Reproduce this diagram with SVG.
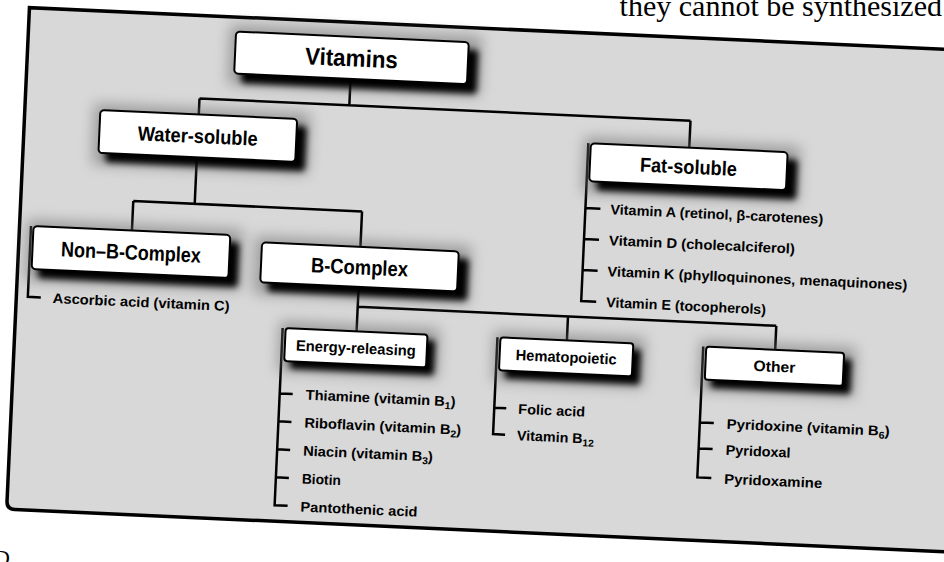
<svg xmlns="http://www.w3.org/2000/svg" width="944" height="562" viewBox="0 0 944 562">
<defs>
<filter id="b3" x="-20%" y="-40%" width="140%" height="180%"><feGaussianBlur stdDeviation="3"/></filter>
<filter id="b8" x="-30%" y="-80%" width="160%" height="260%"><feGaussianBlur stdDeviation="7"/></filter>
</defs>
<style>
.frame{fill:#d8d8d8;stroke:#000;stroke-width:3.5}
.box{fill:#fff;stroke:#000;stroke-width:2}
.sh{fill:#000;filter:url(#b3)}
.halo{fill:#6a6a6a;opacity:.55;filter:url(#b8)}
.lbl{font-family:"Liberation Sans",Arial,sans-serif;font-weight:bold;fill:#000;text-anchor:middle}
.it{font-family:"Liberation Sans",Arial,sans-serif;font-weight:bold;font-size:14px;fill:#000}
.cn{fill:none;stroke:#000;stroke-width:2.5}
.pg{font-family:"Liberation Serif","Times New Roman",serif;fill:#000}
</style>
<rect width="944" height="562" fill="#fff"/>
<text class="pg" x="942" y="16" font-size="30" text-anchor="end">they cannot be synthesized</text>
<text class="pg" x="-6" y="565" font-size="22">D.</text>
<g transform="rotate(2.6 472 281)">
<path class="frame" d="M990,28 H17.5 V522 Q17.5,530 25.5,530 H990"/>
<g id="connectors">
<path class="cn" d="M341.5,84.5 V111 M191.5,111 H683 M191.5,111 V127 M683,111 V138"/>
<path class="cn" d="M191.5,170 V216.5 M130,216.5 H359 M130,216.5 V246 M359,216.5 V252"/>
<path class="cn" d="M359,292 V336.5 M359,312 H778 M569.5,312 V336 M778,312 V336"/>
<path class="cn" d="M29,246 V317 H42"/>
<path class="cn" d="M582,138 V296 H597 M582,203 H597 M582,234 H597 M582,265 H597"/>
<path class="cn" d="M285,336.5 V514 H298 M285,402 H298 M285,430 H298 M285,458 H298 M285,486 H298"/>
<path class="cn" d="M500,336 V433 H512 M500,406.5 H512"/>
<path class="cn" d="M706,336 V467 H720 M706,412 H720 M706,438 H720"/>
</g>
<g id="n-vitamins">
<rect class="halo" x="219" y="36" width="252" height="60"/>
<rect class="sh" x="232" y="50" width="236" height="44" rx="4"/>
<rect class="box" x="225" y="42.5" width="233" height="42" rx="4"/>
<text class="lbl" x="341.5" y="72" font-size="24" textLength="93" lengthAdjust="spacingAndGlyphs">Vitamins</text>
</g>
<g id="n-water">
<rect class="halo" x="87" y="121" width="216" height="61"/>
<rect class="sh" x="100" y="134" width="200" height="45" rx="4"/>
<rect class="box" x="93" y="127" width="197" height="43" rx="4"/>
<text class="lbl" x="191.5" y="155.5" font-size="20" textLength="120" lengthAdjust="spacingAndGlyphs">Water-soluble</text>
</g>
<g id="n-fat">
<rect class="halo" x="578" y="132" width="216" height="56"/>
<rect class="sh" x="592" y="145" width="200" height="40" rx="4"/>
<rect class="box" x="584.5" y="138" width="197" height="38" rx="4"/>
<text class="lbl" x="683" y="164" font-size="20" textLength="97" lengthAdjust="spacingAndGlyphs">Fat-soluble</text>
</g>
<g id="n-nonb">
<rect class="halo" x="25" y="240" width="216" height="61"/>
<rect class="sh" x="38" y="253" width="200" height="45" rx="4"/>
<rect class="box" x="31.5" y="246" width="197" height="43" rx="4"/>
<text class="lbl" x="130" y="275" font-size="21" textLength="140" lengthAdjust="spacingAndGlyphs">Non–B-Complex</text>
<text class="it" x="54" y="322" textLength="177" lengthAdjust="spacingAndGlyphs">Ascorbic acid (vitamin C)</text>
</g>
<g id="n-bcomplex">
<rect class="halo" x="254" y="246" width="216" height="58"/>
<rect class="sh" x="268" y="259" width="200" height="42" rx="4"/>
<rect class="box" x="260.5" y="252" width="197" height="40" rx="4"/>
<text class="lbl" x="359" y="279.5" font-size="21" textLength="97" lengthAdjust="spacingAndGlyphs">B-Complex</text>
</g>
<g id="n-fat-items">
<text class="it" x="607" y="208" textLength="213" lengthAdjust="spacingAndGlyphs">Vitamin A (retinol, β-carotenes)</text>
<text class="it" x="607" y="239" textLength="186" lengthAdjust="spacingAndGlyphs">Vitamin D (cholecalciferol)</text>
<text class="it" x="607" y="270" textLength="300" lengthAdjust="spacingAndGlyphs">Vitamin K (phylloquinones, menaquinones)</text>
<text class="it" x="607" y="301" textLength="160" lengthAdjust="spacingAndGlyphs">Vitamin E (tocopherols)</text>
</g>
<g id="n-energy">
<rect class="halo" x="282" y="330" width="160" height="50"/>
<rect class="sh" x="294" y="342" width="144" height="35" rx="3"/>
<rect class="box" x="288" y="336.5" width="142" height="33" rx="3"/>
<text class="lbl" x="359" y="358.5" font-size="15" textLength="120" lengthAdjust="spacingAndGlyphs">Energy-releasing</text>
<text class="it" x="311" y="407" textLength="150" lengthAdjust="spacingAndGlyphs">Thiamine (vitamin B<tspan font-size="10" dy="3">1</tspan><tspan dy="-3">)</tspan></text>
<text class="it" x="311" y="435" textLength="157" lengthAdjust="spacingAndGlyphs">Riboflavin (vitamin B<tspan font-size="10" dy="3">2</tspan><tspan dy="-3">)</tspan></text>
<text class="it" x="311" y="463" textLength="130" lengthAdjust="spacingAndGlyphs">Niacin (vitamin B<tspan font-size="10" dy="3">3</tspan><tspan dy="-3">)</tspan></text>
<text class="it" x="311" y="491" textLength="39" lengthAdjust="spacingAndGlyphs">Biotin</text>
<text class="it" x="311" y="519" textLength="117" lengthAdjust="spacingAndGlyphs">Pantothenic acid</text>
</g>
<g id="n-hemato">
<rect class="halo" x="497" y="330" width="151" height="50"/>
<rect class="sh" x="509" y="342" width="135" height="35" rx="3"/>
<rect class="box" x="503" y="336" width="133" height="33" rx="3"/>
<text class="lbl" x="569.5" y="358" font-size="15" textLength="101" lengthAdjust="spacingAndGlyphs">Hematopoietic</text>
<text class="it" x="524" y="411.5" textLength="67" lengthAdjust="spacingAndGlyphs">Folic acid</text>
<text class="it" x="524" y="438" textLength="77" lengthAdjust="spacingAndGlyphs">Vitamin B<tspan font-size="10" dy="3">12</tspan></text>
</g>
<g id="n-other">
<rect class="halo" x="703" y="330" width="156" height="50"/>
<rect class="sh" x="715" y="342" width="140" height="35" rx="3"/>
<rect class="box" x="709" y="336" width="138" height="33" rx="3"/>
<text class="lbl" x="778" y="358" font-size="15" textLength="42" lengthAdjust="spacingAndGlyphs">Other</text>
<text class="it" x="733" y="417" textLength="163" lengthAdjust="spacingAndGlyphs">Pyridoxine (vitamin B<tspan font-size="10" dy="3">6</tspan><tspan dy="-3">)</tspan></text>
<text class="it" x="733" y="443" textLength="65" lengthAdjust="spacingAndGlyphs">Pyridoxal</text>
<text class="it" x="733" y="472" textLength="98" lengthAdjust="spacingAndGlyphs">Pyridoxamine</text>
</g>
</g>
</svg>
